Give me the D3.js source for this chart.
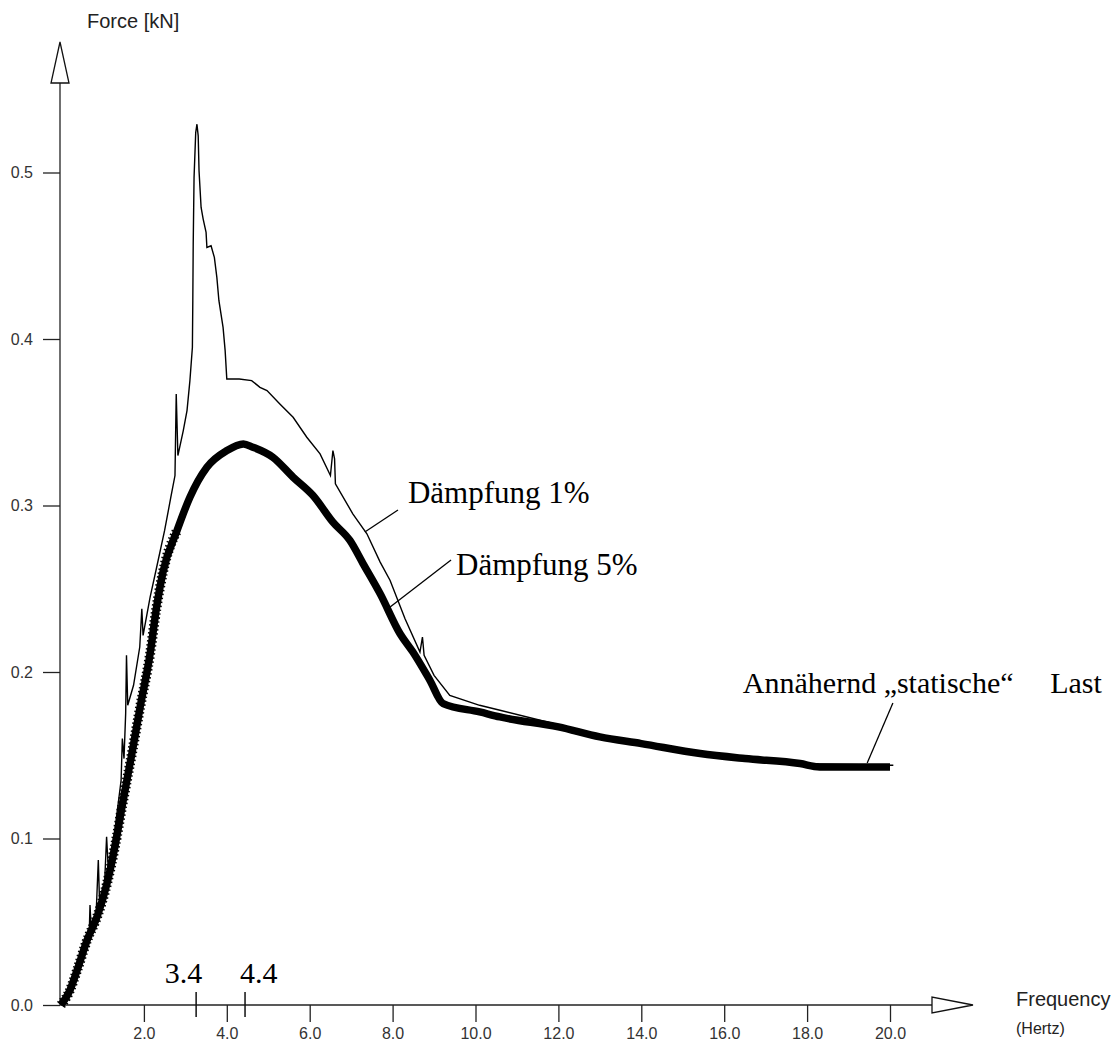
<!DOCTYPE html>
<html><head><meta charset="utf-8">
<script src="https://cdn.jsdelivr.net/npm/d3@7"></script>
<style>
html,body{margin:0;padding:0;background:#fff;}
svg{display:block;}
</style></head>
<body>
<svg id="chart" width="1114" height="1041"></svg>
<script>
// ---- data ----
const xTicks = [2, 4, 6, 8, 10, 12, 14, 16, 18, 20];
const yTicks = [0.0, 0.1, 0.2, 0.3, 0.4, 0.5];
const markerFreqs = [3.26, 4.44];
const markerLabels = ["3.4", "4.4"];

// Dämpfung 5% (thick)
const freq5 = [0, 0.2, 0.39, 0.63, 0.87, 1.11, 1.30, 1.50, 1.71, 1.91, 2.15, 2.30, 2.46, 2.8, 3.11, 3.52, 4.0, 4.4, 4.63, 5.11, 5.6, 6.08, 6.56, 6.97, 7.29, 7.70, 8.18, 8.49, 8.9, 9.22, 10.1, 10.59, 12.0, 13.0, 14.0, 15.42, 16.5, 17.83, 18.3, 20.0];
const force5 = [0, 0.008, 0.021, 0.039, 0.053, 0.073, 0.095, 0.123, 0.151, 0.179, 0.211, 0.238, 0.260, 0.285, 0.305, 0.323, 0.333, 0.337, 0.335, 0.329, 0.317, 0.306, 0.290, 0.279, 0.265, 0.247, 0.223, 0.212, 0.195, 0.181, 0.176, 0.173, 0.167, 0.161, 0.157, 0.151, 0.148, 0.145, 0.143, 0.143];

// Dämpfung 1% (thin)
const freq1 = [0, 0.25, 0.5, 0.68, 0.70, 0.73, 0.85, 0.90, 0.93, 1.05, 1.10, 1.14, 1.30, 1.45, 1.48, 1.52, 1.56, 1.58, 1.61, 1.75, 1.90, 1.95, 1.98, 2.15, 2.30, 2.50, 2.65, 2.75, 2.78, 2.82, 2.95, 3.04, 3.11, 3.17, 3.18, 3.19, 3.21, 3.25, 3.28, 3.31, 3.33, 3.38, 3.43, 3.5, 3.52, 3.62, 3.70, 3.76, 3.81, 3.91, 3.96, 4.0, 4.3, 4.6, 4.8, 4.97, 5.28, 5.6, 5.93, 6.25, 6.50, 6.56, 6.60, 6.62, 7.04, 7.38, 7.70, 7.94, 8.3, 8.66, 8.72, 8.76, 9.0, 9.38, 10.1, 10.59, 11.56, 13.0, 15.42, 17.83, 20.0, 20.08];
const force1 = [0, 0.010, 0.027, 0.042, 0.060, 0.045, 0.056, 0.087, 0.062, 0.072, 0.101, 0.082, 0.105, 0.135, 0.160, 0.148, 0.175, 0.210, 0.180, 0.192, 0.215, 0.238, 0.222, 0.245, 0.262, 0.285, 0.305, 0.318, 0.367, 0.330, 0.345, 0.357, 0.375, 0.395, 0.423, 0.458, 0.497, 0.524, 0.529, 0.522, 0.501, 0.479, 0.472, 0.464, 0.455, 0.456, 0.449, 0.437, 0.423, 0.407, 0.393, 0.376, 0.376, 0.375, 0.371, 0.369, 0.361, 0.353, 0.341, 0.331, 0.318, 0.333, 0.328, 0.313, 0.295, 0.283, 0.266, 0.255, 0.232, 0.212, 0.221, 0.210, 0.198, 0.186, 0.180, 0.177, 0.171, 0.162, 0.152, 0.145, 0.144, 0.144];

// annotations: text anchor and leader line in data coordinates
const annoTexts = ["Dämpfung 1%", "Dämpfung 5%", "Annähernd „statische“", "Last"];
const annoTextPos = [[8.37, 0.3015], [9.53, 0.2583], [16.45, 0.1874], [25.11, 0.1874]];
const annoAnchor = ["start", "start", "start", "end"];
const leaderLines = [[[8.13, 0.2973], [7.33, 0.2841]], [[9.41, 0.2673], [7.94, 0.2390]], [[20.07, 0.1814], [19.45, 0.1453]]];

// ---- drawing ----
const svg = d3.select("#chart");
const x = d3.scaleLinear().domain([0, 20]).range([61, 890]);
const y = d3.scaleLinear().domain([0, 0.5]).range([1005, 172.5]);
const x0 = 60, y0 = 1005;

const sans = "'Liberation Sans', Arial, sans-serif";
const serif = "'Liberation Serif', 'Times New Roman', serif";

// y axis
const yAxis = d3.axisLeft(y).tickValues(yTicks).tickFormat(d3.format(".1f")).tickSize(17).tickPadding(10);
const gy = svg.append("g").attr("transform", `translate(${x0},0)`).call(yAxis);
gy.select(".domain").remove();
gy.selectAll(".tick line").attr("stroke", "#222").attr("stroke-width", 1.3);
gy.selectAll(".tick text").attr("font-family", sans).attr("font-size", 16).attr("fill", "#333");

// x axis
const xAxis = d3.axisBottom(x).tickValues(xTicks).tickFormat(d3.format(".1f")).tickSize(17).tickPadding(6);
const gx = svg.append("g").attr("transform", `translate(0,${y0})`).call(xAxis);
gx.select(".domain").remove();
gx.selectAll(".tick line").attr("stroke", "#222").attr("stroke-width", 1.3);
gx.selectAll(".tick text").attr("font-family", sans).attr("font-size", 16).attr("fill", "#333");

// axis lines
svg.append("line").attr("x1", x0).attr("x2", x0).attr("y1", y0).attr("y2", 83).attr("stroke", "#222").attr("stroke-width", 1.3);
svg.append("line").attr("x1", x0).attr("x2", 932).attr("y1", y0).attr("y2", y0).attr("stroke", "#222").attr("stroke-width", 1.3);
// arrows
svg.append("path").attr("d", `M${x0},42 L${x0 - 9},83 L${x0 + 9},83 Z`).attr("fill", "#fff").attr("stroke", "#111").attr("stroke-width", 1.3);
svg.append("path").attr("d", `M973,${y0} L932,${y0 - 8} L932,${y0 + 8} Z`).attr("fill", "#fff").attr("stroke", "#111").attr("stroke-width", 1.3);

// axis titles
svg.append("text").attr("x", 87).attr("y", 28).attr("font-family", sans).attr("font-size", 20).attr("fill", "#222").text("Force [kN]");
svg.append("text").attr("x", 1016).attr("y", 1006).attr("font-family", sans).attr("font-size", 20).attr("fill", "#222").text("Frequency");
svg.append("text").attr("x", 1016).attr("y", 1034).attr("font-family", sans).attr("font-size", 16).attr("fill", "#222").text("(Hertz)");

// special markers
markerFreqs.forEach((f, i) => {
  svg.append("line").attr("x1", x(f)).attr("x2", x(f)).attr("y1", 992).attr("y2", 1017).attr("stroke", "#111").attr("stroke-width", 1.5);
  svg.append("text").attr("x", i === 0 ? x(f) + 6 : x(f) - 5).attr("y", 983)
    .attr("text-anchor", i === 0 ? "end" : "start")
    .attr("font-family", serif).attr("font-size", 30).attr("fill", "#000").text(markerLabels[i]);
});

// curves
const smooth = d3.line().x(d => x(d[0])).y(d => y(d[1])).curve(d3.curveMonotoneX);
const line = d3.line().x(d => x(d[0])).y(d => y(d[1]));
const data5 = freq5.map((f, i) => [f, force5[i]]);
const data1 = freq1.map((f, i) => [f, force1[i]]);

svg.append("path").datum(data5).attr("d", smooth).attr("fill", "none").attr("stroke", "#000").attr("stroke-width", 7.5).attr("stroke-linejoin", "round");
// hatched look of the rising part
svg.append("path").datum(data5.filter(d => d[0] <= 3.0)).attr("d", smooth).attr("fill", "none").attr("stroke", "#000").attr("stroke-width", 10).attr("stroke-dasharray", "1.5,2.5");

svg.append("path").datum(data1).attr("d", line).attr("fill", "none").attr("stroke", "#000").attr("stroke-width", 1.4).attr("stroke-linejoin", "miter");

// annotations
leaderLines.forEach(l => {
  svg.append("line").attr("x1", x(l[0][0])).attr("y1", y(l[0][1])).attr("x2", x(l[1][0])).attr("y2", y(l[1][1])).attr("stroke", "#000").attr("stroke-width", 1.3);
});
annoTexts.forEach((t, i) => {
  svg.append("text").attr("x", x(annoTextPos[i][0])).attr("y", y(annoTextPos[i][1]))
    .attr("text-anchor", annoAnchor[i])
    .attr("font-family", serif).attr("font-size", i >= 2 ? 30 : 31).attr("fill", "#000").text(t);
});
</script>
</body></html>
